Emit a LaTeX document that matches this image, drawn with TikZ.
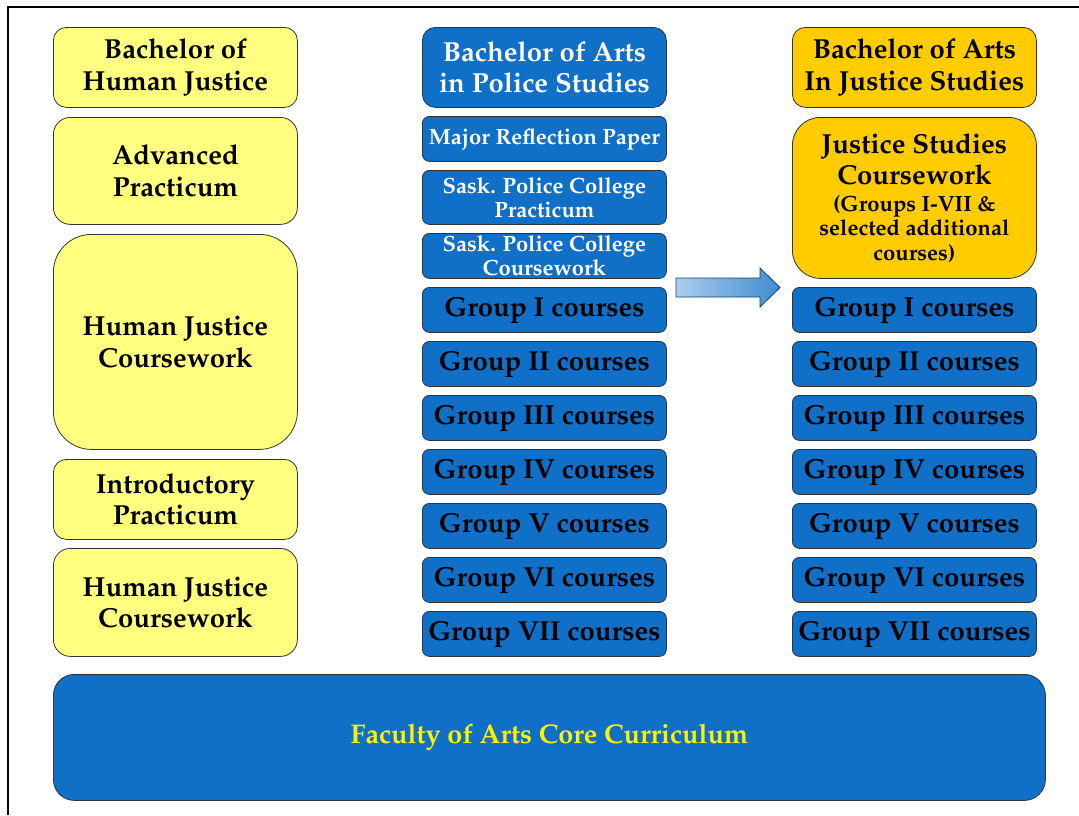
\documentclass[tikz,border=0pt]{standalone}
\usepackage[T1]{fontenc}
\usepackage{mathpazo}
\usetikzlibrary{positioning,shapes.arrows}
\definecolor{hjyellow}{RGB}{255,255,128}
\definecolor{psblue}{RGB}{16,111,198}
\definecolor{jsgold}{RGB}{255,204,0}
\newcommand{\smalltext}{\fontsize{22}{24}\selectfont}
\begin{document}
\begin{tikzpicture}[x=1pt,y=-1pt,
  box/.style={draw=black!80,line width=0.8pt,anchor=north west,minimum width=244pt,
    align=center,inner sep=0pt,font=\bfseries\fontsize{27.5}{31.5}\selectfont},
  ybox/.style={box,fill=hjyellow},
  bbox/.style={box,fill=psblue,text=white},
  gbox/.style={box,fill=psblue,minimum height=45pt,rounded corners=7pt},
  sbox/.style={bbox,font=\bfseries\smalltext,rounded corners=7pt},
  jbox/.style={box,fill=jsgold}]
 \useasboundingbox (0,0) rectangle (1079,815);
 \draw[line width=2pt] (8,815) -- (8,7) -- (1079,7);
 \node[ybox,minimum height=80pt,rounded corners=13pt] (bhj) at (53,27) {Bachelor of\\Human Justice};
 \node[ybox,minimum height=107pt,rounded corners=17pt] (adv) at (53,117) {Advanced\\Practicum};
 \node[ybox,minimum height=215pt,rounded corners=38pt] (hjc) at (53,234) {Human Justice\\Coursework};
 \node[ybox,minimum height=80pt,rounded corners=13pt] (intro) at (53,459) {Introductory\\Practicum};
 \node[ybox,minimum height=108pt,rounded corners=17pt] (hjc2) at (53,548) {Human Justice\\Coursework};
 \node[bbox,minimum height=80pt,rounded corners=13pt] (baps) at (422,27) {Bachelor of Arts\\in Police Studies};
 \node[sbox,minimum height=45pt] (mrp) at (422,116) {Major Reflection Paper};
 \node[sbox,minimum height=54pt] (spcp) at (422,170) {Sask. Police College\\Practicum};
 \node[sbox,minimum height=45pt] (spcc) at (422,233) {Sask. Police College\\Coursework};
 \node[jbox,minimum height=80pt,rounded corners=13pt] (bajs) at (792,27) {Bachelor of Arts\\In Justice Studies};
 \node[jbox,minimum height=161pt,rounded corners=28pt] (jsc) at (792,117)
  {Justice Studies\\Coursework\\[-5pt]\smalltext(Groups I-VII \&\\[-7pt]\smalltext selected additional\\[-7pt]\smalltext courses)};
 \foreach \g [count=\i from 0] in {I,II,III,IV,V,VI,VII} {
  \node[gbox] (pg\i) at (422,{287+54*\i}) {Group \g\ courses};
  \node[gbox] (jg\i) at (792,{287+54*\i}) {Group \g\ courses};
 }
 \node[box,fill=psblue,text=yellow,minimum width=992pt,minimum height=126pt,rounded corners=21pt,
   font=\bfseries\fontsize{27}{32}\selectfont] (core) at (53,674) {Faculty of Arts Core Curriculum};
 \draw[draw=psblue!60!black,line width=0.8pt,left color=psblue!35!white,right color=psblue!80!white]
   (676,278) -- (760,278) -- (760,268) -- (780,287.5) -- (760,307) -- (760,297) -- (676,297) -- cycle;
\end{tikzpicture}
\end{document}
